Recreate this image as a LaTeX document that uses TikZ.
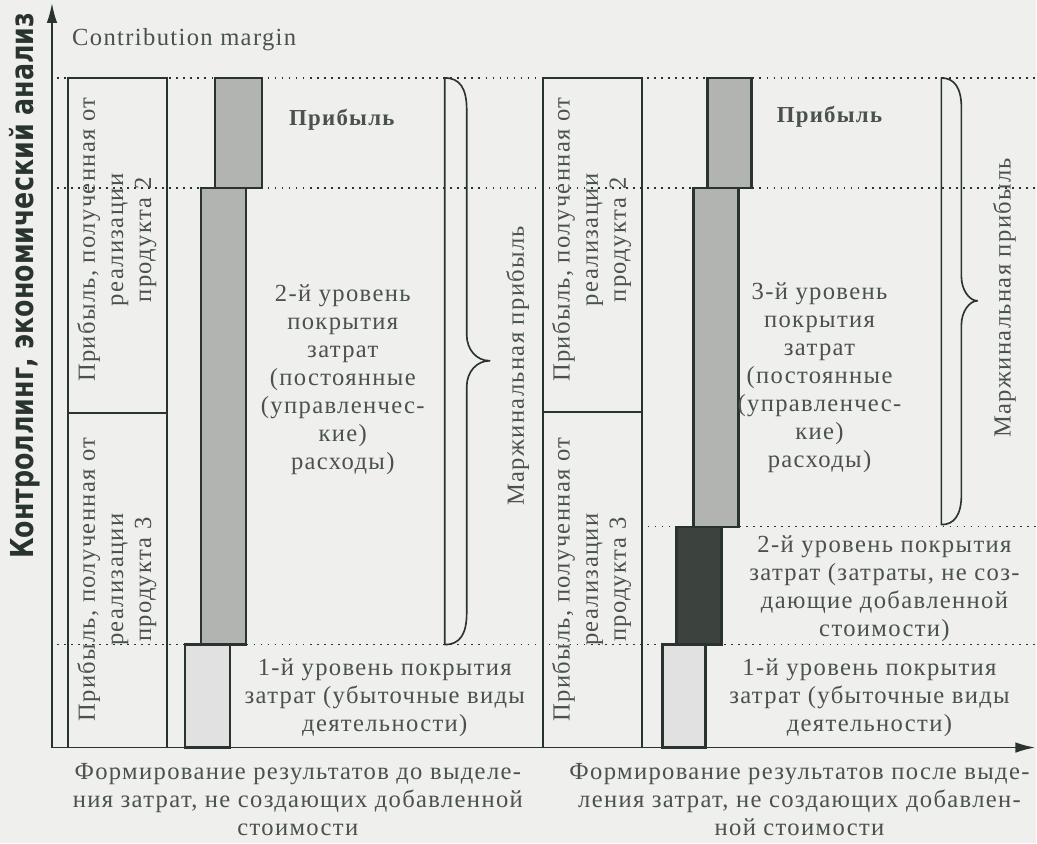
\documentclass[tikz,border=0pt]{standalone}
\usepackage{fontspec}
\setmainfont[LetterSpace=5.5]{Liberation Serif}
\newfontfamily\axisfont[FakeStretch=0.8]{DejaVu Sans}
\usepackage{xcolor}
\usepackage{tikz}
\usetikzlibrary{arrows.meta,positioning}

\definecolor{paper}{RGB}{239,239,237}
\definecolor{ink}{RGB}{42,52,47}
\definecolor{midgray}{RGB}{178,180,178}
\definecolor{lightgray}{RGB}{224,225,224}
\definecolor{darkgray}{RGB}{60,66,62}

\tikzset{
  frame/.style={draw=ink, line width=1.6pt},
  bar/.style={draw=ink, line width=1.9pt},
  level/.style={draw=ink, line width=1.1pt, dash pattern=on 1.4pt off 4.6pt},
  curly/.style={draw=ink, line width=1.4pt, line join=round},
  lbl/.style={text=ink!85, align=center, inner sep=0pt, font=\fontsize{21}{24}\selectfont},
  vlbl/.style={lbl, rotate=90},
}

\begin{document}
\begin{tikzpicture}[x=0.03cm, y=-0.03cm]

\fill[paper] (0,0) rectangle (1037,844);

% levels
\draw[level] (57,78) -- (1037,78);
\draw[level] (57,188) -- (1037,188);
\draw[level] (57,645) -- (1037,645);
\draw[level] (648,527) -- (1037,527);

% axes
\coordinate (origin) at (52,748);
\coordinate (ytip) at (52,3);
\coordinate (xtip) at (1036,748);
\draw[frame, -{Latex[length=17pt,width=9pt]}] (origin) -- (ytip);
\draw[frame, -{Latex[length=17pt,width=9pt]}] (origin) -- (xtip);

\node[rotate=90, text=ink, inner sep=0pt, font=\axisfont\bfseries\fontsize{27}{30}\selectfont] (ylabel) at (25,286) {Контроллинг, экономический анализ};
\node[lbl, anchor=west] (cmargin) at (72,40) {Contribution margin};

% before
\draw[frame] (68,78) rectangle (167,748);
\draw[frame] (68,413) -- (167,413);
\node[vlbl] (prodAl) at (117,240) {Прибыль, полученная от\\реализации\\продукта 2};
\node[vlbl] (prodBl) at (117,580) {Прибыль, полученная от\\реализации\\продукта 3};

\draw[bar, fill=midgray] (215,78) rectangle (262,188);
\draw[bar, fill=midgray] (201,188) rectangle (246,645);
\draw[bar, fill=lightgray] (185,645) rectangle (230,748);

\node[lbl, font=\fontsize{19.5}{24}\selectfont\bfseries] (profitl) at (342,120) {Прибыль};
\node[lbl] (levelBl) at (343,380) {2-й уровень\\покрытия\\затрат\\(постоянные\\(управленчес-\\кие)\\расходы)};
\node[lbl] (levelAl) at (385,698) {1-й уровень покрытия\\затрат (убыточные виды\\деятельности)};

\draw[curly] (445,78) .. controls (460,78) and (467,88) .. (467,110) -- (467,335)
  .. controls (467,350) and (477,361) .. (490,361) .. controls (477,361) and (467,372) .. (467,387)
  -- (467,613) .. controls (467,635) and (460,645) .. (445,645) -- cycle;
\node[vlbl] (marginl) at (518,366) {Маржинальная прибыль};

% after
\draw[frame] (543,78) rectangle (642,748);
\draw[frame] (543,412) -- (642,412);
\node[vlbl] (prodAr) at (592,240) {Прибыль, полученная от\\реализации\\продукта 2};
\node[vlbl] (prodBr) at (592,580) {Прибыль, полученная от\\реализации\\продукта 3};

\draw[bar, fill=midgray] (708,78) rectangle (752,188);
\draw[bar, fill=midgray] (694,188) rectangle (739,527);
\draw[bar, fill=darkgray] (677,527) rectangle (722,645);
\draw[bar, fill=lightgray] (663,645) rectangle (706,748);

\node[lbl, font=\fontsize{19.5}{24}\selectfont\bfseries] (profitr) at (830,117) {Прибыль};
\node[lbl] (levelCr) at (820,378) {3-й уровень\\покрытия\\затрат\\(постоянные\\(управленчес-\\кие)\\расходы)};
\node[lbl] (levelBr) at (885,589) {2-й уровень покрытия\\затрат (затраты, не соз-\\дающие добавленной\\стоимости)};
\node[lbl] (levelAr) at (870,698) {1-й уровень покрытия\\затрат (убыточные виды\\деятельности)};

\draw[curly] (942,78) .. controls (955,78) and (962,88) .. (962,108) -- (962,277)
  .. controls (962,290) and (970,301) .. (978,301) .. controls (970,301) and (962,312) .. (962,325)
  -- (962,495) .. controls (962,515) and (955,525) .. (942,525) -- cycle;
\node[vlbl] (marginr) at (1005,298) {Маржинальная прибыль};

% captions
\node[lbl] (captionl) at (298,800) {Формирование результатов до выделе-\\ния затрат, не создающих добавленной\\стоимости};
\node[lbl] (captionr) at (800,800) {Формирование результатов после выде-\\ления затрат, не создающих добавлен-\\ной стоимости};

\end{tikzpicture}
\end{document}
